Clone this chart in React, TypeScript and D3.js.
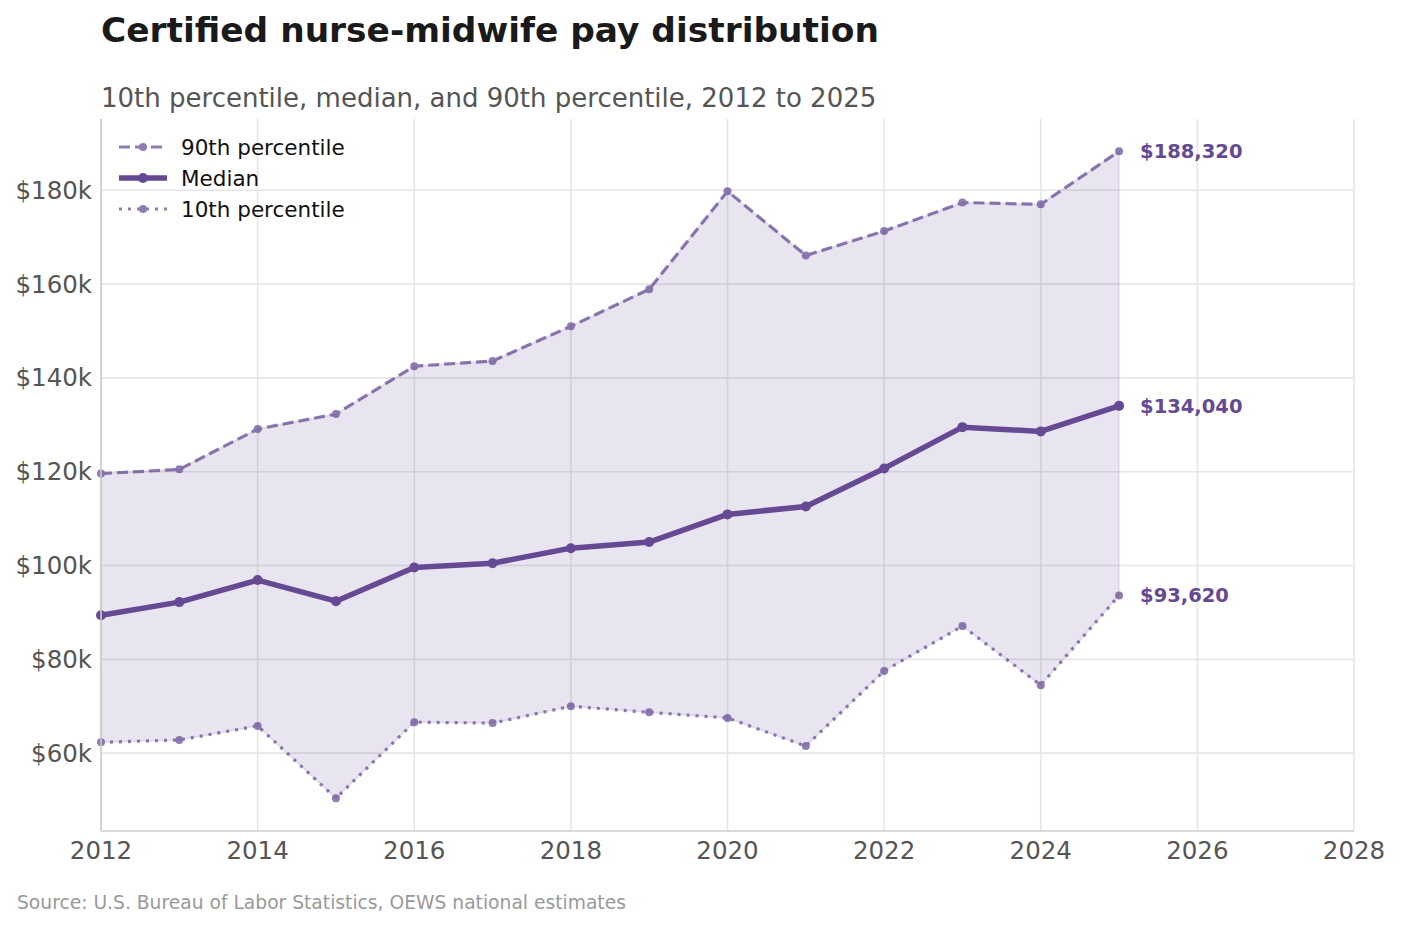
import React, { useRef, useEffect } from 'react';
import * as d3 from 'd3';

const years = [2012, 2013, 2014, 2015, 2016, 2017, 2018, 2019, 2020, 2021, 2022, 2023, 2024, 2025];
const p90 = [119600, 120500, 129100, 132300, 142500, 143600, 151000, 158900, 179800, 166100, 171300, 177400, 177000, 188320];
const median = [89400, 92200, 96900, 92400, 99600, 100500, 103700, 105000, 110900, 112600, 120700, 129500, 128600, 134040];
const p10 = [62300, 62800, 65800, 50400, 66600, 66400, 70000, 68700, 67500, 61500, 77500, 87100, 74500, 93620];
const xTicks = [2012, 2014, 2016, 2018, 2020, 2022, 2024, 2026, 2028];
const yTicks = [60000, 80000, 100000, 120000, 140000, 160000, 180000];

const purple = '#654a93';
const font = 'DejaVu Sans, sans-serif';

function App(): React.ReactElement {
  const svgRef = useRef<SVGSVGElement | null>(null);

  useEffect(() => {
    const width = 1401;
    const height = 927;
    const m = { top: 119, right: 47, bottom: 96, left: 101 };

    const svg = d3.select(svgRef.current);
    svg.selectAll('*').remove();

    const x = d3.scaleLinear().domain([2012, 2028]).range([m.left, width - m.right]);
    const y = d3.scaleLinear().domain([43400, 195200]).range([height - m.bottom, m.top]);

    // title + subtitle
    svg.append('text').attr('x', 101).attr('y', 42)
      .attr('font-family', font).attr('font-size', 34.4).attr('font-weight', 'bold')
      .attr('fill', '#1a1a1a').text('Certified nurse-midwife pay distribution');
    svg.append('text').attr('x', 101).attr('y', 107)
      .attr('font-family', font).attr('font-size', 26)
      .attr('fill', '#555').text('10th percentile, median, and 90th percentile, 2012 to 2025');

    // grid
    const grid = svg.append('g');
    grid.selectAll('line.gx').data(xTicks).enter().append('line')
      .attr('x1', (d) => x(d)).attr('x2', (d) => x(d))
      .attr('y1', m.top).attr('y2', height - m.bottom)
      .attr('stroke', '#e6e6e6').attr('stroke-width', 1.6);
    grid.selectAll('line.gy').data(yTicks).enter().append('line')
      .attr('x1', m.left).attr('x2', width - m.right)
      .attr('y1', (d) => y(d)).attr('y2', (d) => y(d))
      .attr('stroke', '#e6e6e6').attr('stroke-width', 1.6);

    // band
    const idx = d3.range(years.length);
    const area = d3.area<number>()
      .x((i) => x(years[i]))
      .y0((i) => y(p10[i]))
      .y1((i) => y(p90[i]));
    svg.append('path').datum(idx).attr('d', area)
      .attr('fill', purple).attr('fill-opacity', 0.14)
      .attr('stroke', purple).attr('stroke-opacity', 0.14).attr('stroke-width', 1.5);

    const series = [
      { vals: p90, width: 3.2, dash: '11,5', opacity: 0.72, r: 4, label: '90th percentile' },
      { vals: median, width: 5.5, dash: null, opacity: 1, r: 5, label: 'Median' },
      { vals: p10, width: 3.2, dash: '3,6', opacity: 0.72, r: 4, label: '10th percentile' },
    ];

    series.forEach((s) => {
      const line = d3.line<number>().x((i) => x(years[i])).y((i) => y(s.vals[i]));
      const g = svg.append('g').attr('opacity', s.opacity);
      g.append('path').datum(idx).attr('d', line)
        .attr('fill', 'none').attr('stroke', purple).attr('stroke-width', s.width)
        .attr('stroke-dasharray', s.dash).attr('stroke-linejoin', 'round');
      g.selectAll('circle').data(idx).enter().append('circle')
        .attr('cx', (i) => x(years[i])).attr('cy', (i) => y(s.vals[i]))
        .attr('r', s.r).attr('fill', purple);
    });

    // end labels
    const last = years.length - 1;
    [p90, median, p10].forEach((vals) => {
      svg.append('text').attr('x', x(years[last]) + 21).attr('y', y(vals[last]))
        .attr('dy', '0.35em')
        .attr('font-family', font).attr('font-size', 19.5).attr('font-weight', 'bold')
        .attr('fill', purple).text(d3.format('$,')(vals[last]));
    });

    // spines
    svg.append('line').attr('x1', m.left).attr('x2', m.left)
      .attr('y1', m.top).attr('y2', height - m.bottom)
      .attr('stroke', '#cccccc').attr('stroke-width', 1.6);
    svg.append('line').attr('x1', m.left).attr('x2', width - m.right)
      .attr('y1', height - m.bottom).attr('y2', height - m.bottom)
      .attr('stroke', '#cccccc').attr('stroke-width', 1.6);

    // tick labels
    svg.selectAll('text.xt').data(xTicks).enter().append('text')
      .attr('x', (d) => x(d)).attr('y', height - m.bottom + 28)
      .attr('text-anchor', 'middle').attr('font-family', font).attr('font-size', 24.5)
      .attr('fill', '#555').text((d) => d);
    svg.selectAll('text.yt').data(yTicks).enter().append('text')
      .attr('x', m.left - 9).attr('y', (d) => y(d)).attr('dy', '0.35em')
      .attr('text-anchor', 'end').attr('font-family', font).attr('font-size', 24.5)
      .attr('fill', '#555').text((d) => `$${d / 1000}k`);

    // legend
    const leg = svg.append('g');
    series.forEach((s, i) => {
      const ly = 147 + i * 31;
      const g = leg.append('g').attr('opacity', s.opacity);
      g.append('line').attr('x1', 119).attr('x2', 167).attr('y1', ly).attr('y2', ly)
        .attr('stroke', purple).attr('stroke-width', s.width).attr('stroke-dasharray', s.dash);
      g.append('circle').attr('cx', 143).attr('cy', ly).attr('r', s.r).attr('fill', purple);
      leg.append('text').attr('x', 181).attr('y', ly).attr('dy', '0.35em')
        .attr('font-family', font).attr('font-size', 21.5).attr('fill', '#111').text(s.label);
    });

    // source
    svg.append('text').attr('x', 17).attr('y', 909)
      .attr('font-family', font).attr('font-size', 18.7)
      .attr('fill', '#999').text('Source: U.S. Bureau of Labor Statistics, OEWS national estimates');
  }, []);

  return (
    <svg ref={svgRef} width={1401} height={927}
      style={{ position: 'absolute', left: 0, top: 0, background: '#fff' }} />
  );
}

export default App;
